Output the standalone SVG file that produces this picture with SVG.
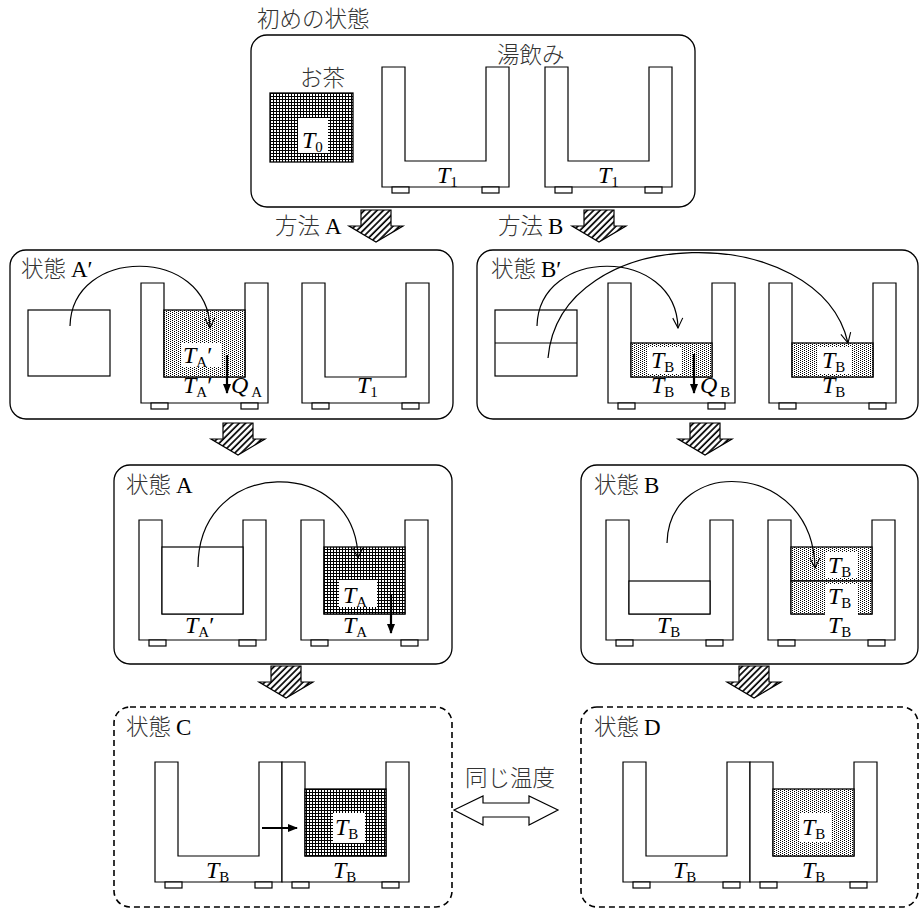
<svg xmlns="http://www.w3.org/2000/svg" xmlns:xlink="http://www.w3.org/1999/xlink" width="920" height="910" viewBox="0 0 920 910">
<style>
.box{fill:#fff;stroke:#000;stroke-width:1.3}
.dbox{fill:#fff;stroke:#000;stroke-width:1.6;stroke-dasharray:6 4}
.ln{fill:none;stroke:#000;stroke-width:1.2}
.w{fill:#fff;stroke:#000;stroke-width:1.2}
.grid{fill:url(#grid);stroke:#000;stroke-width:1.3}
.dots{fill:url(#dots);stroke:#000;stroke-width:1.3}
.bg{fill:#fff;stroke:none}
.jp{font-family:"Noto Sans CJK JP","Noto Sans",sans-serif;font-size:22.5px;font-weight:300;fill:#333}
.lat{font-family:"Liberation Serif",serif;font-size:23px;font-weight:normal;fill:#000}
.m{font-family:"Liberation Serif",serif;font-size:24px;fill:#000}
.it{font-style:italic}
.sub{font-size:15px;font-style:normal}
.arc{fill:none;stroke:#000;stroke-width:1.2;marker-end:url(#open)}
.thick{fill:none;stroke:#000;stroke-width:2.2;marker-end:url(#solid)}
.harrow{fill:url(#hatch);stroke:#000;stroke-width:1.2}
</style>
<defs>
<pattern id="grid" width="3" height="3" patternUnits="userSpaceOnUse">
<rect width="3" height="3" fill="#fff"/>
<rect width="3" height="1" fill="#000" shape-rendering="crispEdges"/>
<rect width="1" height="3" fill="#000" shape-rendering="crispEdges"/>
</pattern>
<pattern id="dots" width="4" height="4" patternUnits="userSpaceOnUse">
<rect width="4" height="4" fill="#fff"/>
<rect x="0" y="0" width="1" height="1" fill="#000" shape-rendering="crispEdges"/>
<rect x="2" y="1" width="1" height="1" fill="#000" shape-rendering="crispEdges"/>
<rect x="0" y="2" width="1" height="1" fill="#000" shape-rendering="crispEdges"/>
<rect x="2" y="3" width="1" height="1" fill="#000" shape-rendering="crispEdges"/>
</pattern>
<pattern id="hatch" width="4.5" height="4.5" patternUnits="userSpaceOnUse" patternTransform="rotate(45)">
<rect width="4.5" height="4.5" fill="#fff"/>
<line x1="1" y1="0" x2="1" y2="4.5" stroke="#000" stroke-width="1.7"/>
</pattern>
<marker id="open" viewBox="0 0 12 12" refX="11" refY="6" markerWidth="12" markerHeight="12" markerUnits="userSpaceOnUse" orient="auto">
<path d="M1,1 L11,6 L1,11" fill="none" stroke="#000" stroke-width="1.1"/>
</marker>
<marker id="solid" viewBox="0 0 10 10" refX="9" refY="5" markerWidth="10" markerHeight="10" markerUnits="userSpaceOnUse" orient="auto">
<path d="M0,1 L10,5 L0,9 Z" fill="#000"/>
</marker>
<g id="cup">
<path class="w" d="M0,0 H23 V94 H104 V0 H127 V120 H0 Z"/>
<rect class="w" x="10" y="120" width="17" height="6"/>
<rect class="w" x="100" y="120" width="17" height="6"/>
</g>
<path id="ha" class="harrow" d="M-15,0 H15 V16 H27 L0,32 L-27,16 H-15 Z"/>
</defs>
<rect width="920" height="910" fill="#fff"/>

<g id="initial">
<text class="jp" x="257" y="27">初めの状態</text>
<rect class="box" x="251" y="35" width="444" height="172" rx="16"/>
<text class="jp" x="300" y="86">お茶</text>
<text class="jp" x="497" y="63">湯飲み</text>
<rect class="grid" x="270" y="93" width="83" height="69"/>
<rect class="bg" x="298" y="118" width="30" height="35"/>
<text class="m" x="302" y="148"><tspan class="it">T</tspan><tspan class="sub" dy="4">0</tspan></text>
<use href="#cup" x="382" y="67"/>
<use href="#cup" x="545" y="67"/>
<text class="m" x="437" y="183"><tspan class="it">T</tspan><tspan class="sub" dy="4">1</tspan></text>
<text class="m" x="598" y="183"><tspan class="it">T</tspan><tspan class="sub" dy="4">1</tspan></text>
</g>

<g id="stateAp">
<rect class="box" x="10" y="250" width="443" height="169" rx="16"/>
<text class="jp" x="21" y="277">状態 <tspan class="lat">A′</tspan></text>
<rect class="w" x="28" y="310" width="82" height="66"/>
<use href="#cup" x="141" y="283"/>
<use href="#cup" x="302" y="283"/>
<rect class="dots" x="164" y="310" width="81" height="67"/>
<rect class="bg" x="181" y="343" width="40" height="24"/>
<text class="m" x="183" y="363"><tspan class="it">T</tspan><tspan class="sub" dy="4">A</tspan><tspan dy="-4">′</tspan></text>
<text class="m" x="183" y="393"><tspan class="it">T</tspan><tspan class="sub" dy="4">A</tspan><tspan dy="-4">′</tspan></text>
<text class="m" x="231" y="393"><tspan class="it">Q</tspan><tspan class="sub" dy="4" dx="3">A</tspan></text>
<text class="m" x="357" y="393"><tspan class="it">T</tspan><tspan class="sub" dy="4">1</tspan></text>
</g>

<g id="stateBp">
<rect class="box" x="477" y="250" width="441" height="169" rx="16"/>
<text class="jp" x="491" y="277">状態 <tspan class="lat">B′</tspan></text>
<rect class="w" x="495" y="310" width="82" height="66"/>
<line class="ln" x1="495" y1="343" x2="577" y2="343"/>
<use href="#cup" x="608" y="283"/>
<use href="#cup" x="769" y="283"/>
<rect class="dots" x="631" y="343" width="81" height="34"/>
<rect class="dots" x="792" y="343" width="81" height="34"/>
<rect class="bg" x="648" y="347" width="34" height="27"/>
<rect class="bg" x="818" y="347" width="34" height="27"/>
<text class="m" x="651" y="368"><tspan class="it">T</tspan><tspan class="sub" dy="4">B</tspan></text>
<text class="m" x="822" y="368"><tspan class="it">T</tspan><tspan class="sub" dy="4">B</tspan></text>
<text class="m" x="651" y="393"><tspan class="it">T</tspan><tspan class="sub" dy="4">B</tspan></text>
<text class="m" x="700" y="393"><tspan class="it">Q</tspan><tspan class="sub" dy="4" dx="3">B</tspan></text>
<text class="m" x="822" y="393"><tspan class="it">T</tspan><tspan class="sub" dy="4">B</tspan></text>
</g>

<g id="stateA">
<rect class="box" x="114" y="465" width="338" height="199" rx="16"/>
<text class="jp" x="126" y="493">状態 <tspan class="lat">A</tspan></text>
<use href="#cup" x="139" y="520"/>
<use href="#cup" x="301" y="520"/>
<rect class="w" x="162" y="547" width="81" height="67"/>
<rect class="grid" x="324" y="547" width="81" height="67"/>
<rect class="bg" x="339" y="580" width="38" height="27"/>
<text class="m" x="343" y="603"><tspan class="it">T</tspan><tspan class="sub" dy="4">A</tspan></text>
<text class="m" x="185" y="633"><tspan class="it">T</tspan><tspan class="sub" dy="4">A</tspan><tspan dy="-4">′</tspan></text>
<text class="m" x="343" y="633"><tspan class="it">T</tspan><tspan class="sub" dy="4">A</tspan></text>
</g>

<g id="stateB">
<rect class="box" x="581" y="465" width="337" height="199" rx="16"/>
<text class="jp" x="594" y="493">状態 <tspan class="lat">B</tspan></text>
<use href="#cup" x="606" y="520"/>
<use href="#cup" x="768" y="520"/>
<rect class="w" x="629" y="581" width="81" height="33"/>
<rect class="dots" x="791" y="547" width="81" height="34"/>
<rect class="dots" x="791" y="581" width="81" height="33"/>
<rect class="bg" x="825" y="552" width="32" height="26"/>
<rect class="bg" x="825" y="584" width="33" height="31"/>
<text class="m" x="828" y="573"><tspan class="it">T</tspan><tspan class="sub" dy="4">B</tspan></text>
<text class="m" x="828" y="604"><tspan class="it">T</tspan><tspan class="sub" dy="4">B</tspan></text>
<text class="m" x="657" y="633"><tspan class="it">T</tspan><tspan class="sub" dy="4">B</tspan></text>
<text class="m" x="828" y="633"><tspan class="it">T</tspan><tspan class="sub" dy="4">B</tspan></text>
</g>

<g id="stateC">
<rect class="dbox" x="114" y="707" width="338" height="200" rx="16"/>
<text class="jp" x="126" y="735">状態 <tspan class="lat">C</tspan></text>
<use href="#cup" x="155" y="762"/>
<use href="#cup" x="282" y="762"/>
<rect class="grid" x="305" y="789" width="81" height="67"/>
<rect class="bg" x="333" y="813" width="32" height="30"/>
<text class="m" x="335" y="835"><tspan class="it">T</tspan><tspan class="sub" dy="4">B</tspan></text>
<text class="m" x="206" y="878"><tspan class="it">T</tspan><tspan class="sub" dy="4">B</tspan></text>
<text class="m" x="333" y="878"><tspan class="it">T</tspan><tspan class="sub" dy="4">B</tspan></text>
</g>

<g id="stateD">
<rect class="dbox" x="581" y="707" width="337" height="200" rx="16"/>
<text class="jp" x="594" y="735">状態 <tspan class="lat">D</tspan></text>
<use href="#cup" x="623" y="762"/>
<use href="#cup" x="750" y="762"/>
<rect class="dots" x="773" y="789" width="81" height="67"/>
<rect class="bg" x="800" y="813" width="32" height="29"/>
<text class="m" x="802" y="835"><tspan class="it">T</tspan><tspan class="sub" dy="4">B</tspan></text>
<text class="m" x="673" y="878"><tspan class="it">T</tspan><tspan class="sub" dy="4">B</tspan></text>
<text class="m" x="802" y="878"><tspan class="it">T</tspan><tspan class="sub" dy="4">B</tspan></text>
</g>

<g id="connectors">
<text class="jp" x="275" y="234">方法 <tspan class="lat">A</tspan></text>
<use href="#ha" x="376" y="210"/>
<text class="jp" x="498" y="234">方法 <tspan class="lat">B</tspan></text>
<use href="#ha" x="599" y="210"/>
<use href="#ha" x="238" y="423"/>
<use href="#ha" x="705" y="423"/>
<use href="#ha" x="286" y="666"/>
<use href="#ha" x="754" y="666"/>

<path class="arc" d="M70,326 C72,246 208,246 210,328"/>
<path class="arc" d="M537,326 C539,246 676,246 678,328"/>
<path class="arc" d="M548,358 C560,220 820,220 848,343"/>
<path class="arc" d="M198,567 C198,455 356,455 358,558"/>
<path class="arc" d="M667,543 C669,455 813,460 815,568"/>

<line class="thick" x1="227" y1="355" x2="227" y2="393"/>
<line class="thick" x1="694" y1="354" x2="694" y2="393"/>
<line class="thick" x1="391" y1="595" x2="391" y2="633"/>
<line class="thick" x1="262" y1="828" x2="297" y2="828"/>

<text class="jp" x="465" y="786">同じ温度</text>
<path class="w" d="M454,810 L483,796 V803 H529 V796 L558,810 L529,825 V817 H483 V825 Z"/>
</g>
</svg>
